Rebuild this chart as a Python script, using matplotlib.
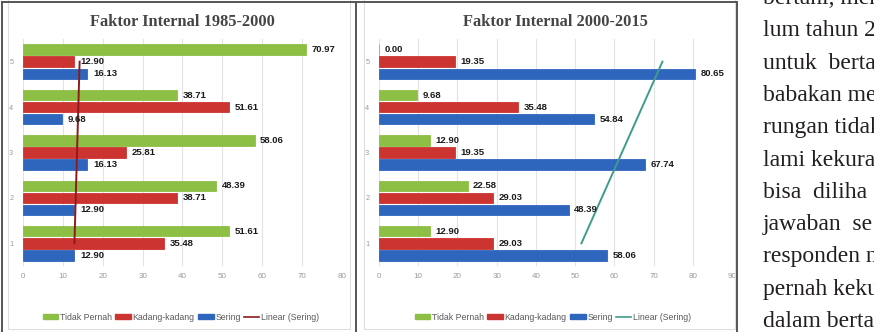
# faktor_internal.py — two clustered bar charts (Faktor Internal) side by side,
# scanned-page look with the body text cut off on the right

import numpy as np
import matplotlib
matplotlib.use("Agg")
import matplotlib.pyplot as plt
from matplotlib.patches import Patch, Rectangle
from matplotlib.lines import Line2D

plt.rcParams["font.family"] = ["Liberation Sans", "DejaVu Sans"]

# ── 1. Data ──────────────────────────────────────────────────────────────────

categories = [1, 2, 3, 4, 5]
series_names = ["Tidak Pernah", "Kadang-kadang", "Sering"]

tidak_pernah_1985 = [51.61, 48.39, 58.06, 38.71, 70.97]
kadang_1985 = [35.48, 38.71, 25.81, 51.61, 12.90]
sering_1985 = [12.90, 12.90, 16.13, 9.68, 16.13]

tidak_pernah_2000 = [12.90, 22.58, 12.90, 9.68, 0.00]
kadang_2000 = [29.03, 29.03, 19.35, 35.48, 19.35]
sering_2000 = [58.06, 48.39, 67.74, 54.84, 80.65]

titles = ["Faktor Internal 1985-2000", "Faktor Internal 2000-2015"]
x_limits = [80, 90]

# visible part of the page text next to the charts
page_lines = [
    "bertani, men",
    "lum tahun 2",
    "untuk  berta",
    "babakan me",
    "rungan tidak",
    "lami kekura",
    "bisa  diliha",
    "jawaban  se",
    "responden n",
    "pernah keku",
    "dalam berta",
]

# ── 2. Styling ───────────────────────────────────────────────────────────────

GREEN = "#8dbf45"
RED = "#cc3431"
BLUE = "#2f66bd"
TREND_COLORS = ["#8e1b1b", "#3f9c8c"]
W, H = 874, 332


def px(x, y):
    """pixel (from top-left) -> figure fraction"""
    return x / W, 1 - y / H


fig = plt.figure(figsize=(W / 100, H / 100), dpi=100)
fig.patch.set_facecolor("white")

# page frame: dark outer lines and light inner boxes
for x0, y0, x1, y1 in [(1.5, 2, 737, 2), (1.5, 2, 1.5, 332), (356, 2, 356, 332), (737, 2, 737, 332)]:
    a, b = px(x0, y0)
    c, d = px(x1, y1)
    fig.add_artist(Line2D([a, c], [b, d], transform=fig.transFigure, color="#555555", lw=1.4))
for x0, x1 in [(8, 350), (364, 735)]:
    a, b = px(x0, 329)
    fig.add_artist(Rectangle((a, b), (x1 - x0) / W, 1.2, transform=fig.transFigure,
                             fill=False, edgecolor="#dddddd", lw=0.8))

# ── 3. Charts ────────────────────────────────────────────────────────────────

panels = [
    (tidak_pernah_1985, kadang_1985, sering_1985),
    (tidak_pernah_2000, kadang_2000, sering_2000),
]
axes_px = [(23, 342), (379, 732)]   # x pixel of axis 0 and axis max
legend_cx = [181, 553]
y_top, y_bot = 39, 266

bar_h = 0.23
offsets = [0.265, 0.0, -0.265]      # green on top, red middle, blue bottom
colors = [GREEN, RED, BLUE]

for i, (vals, (xl, xr)) in enumerate(zip(panels, axes_px)):
    left, top = px(xl, y_top)
    right, bottom = px(xr, y_bot)
    ax = fig.add_axes([left, bottom, right - left, top - bottom])

    cats = np.array(categories)
    for series, off, col in zip(vals, offsets, colors):
        bars = ax.barh(cats + off, series, height=bar_h, color=col,
                       edgecolor=col, linewidth=0.6, zorder=3)
        for bar, v in zip(bars, series):
            ax.annotate(f"{v:.2f}", (bar.get_width(), bar.get_y() + bar.get_height() / 2),
                        xytext=(4, 0), textcoords="offset points", va="center", ha="left",
                        fontsize=6.8, fontweight="bold", color="#1a1a1a", zorder=5)

    # linear trendline of "Sering" over category index
    sering = np.array(vals[2])
    slope, inter = np.polyfit(cats, sering, 1)
    ax.plot(slope * cats + inter, cats, color=TREND_COLORS[i], lw=1.4, zorder=4)

    ax.set_xlim(0, x_limits[i])
    ax.set_ylim(0.5, 5.5)
    ax.set_xticks(np.arange(0, x_limits[i] + 1, 10))
    ax.set_yticks(categories)
    ax.xaxis.grid(True, color="#e3e3e3", lw=0.8)
    ax.set_axisbelow(True)
    for s in ax.spines.values():
        s.set_visible(False)
    ax.tick_params(axis="x", labelsize=5.8, colors="#9a9a9a", length=0, pad=5)
    ax.tick_params(axis="y", labelsize=5.3, colors="#9a9a9a", length=0, pad=7)
    ax.patch.set_alpha(0)

    ax.set_title(titles[i], fontsize=11.8, fontweight="bold", color="#454545",
                 family="Liberation Serif", pad=9)

    handles = [Patch(facecolor=c, edgecolor=c) for c in colors]
    handles.append(Line2D([0], [0], color=TREND_COLORS[i], lw=1.2))
    lx, ly = px(legend_cx[i], 317)
    fig.legend(handles, series_names + ["Linear (Sering)"], loc="center",
               bbox_to_anchor=(lx, ly), ncol=4, frameon=False, fontsize=6.3,
               handlelength=1.8, handleheight=0.5, handletextpad=0.2,
               columnspacing=0.35, labelcolor="#5a5a5a")

# ── 4. Body text of the page (cut off at the right edge) ─────────────────────

for k, line in enumerate(page_lines):
    tx, ty = px(763, 4 + 32.3 * k)
    fig.text(tx, ty, line, family="Liberation Serif", fontsize=17,
             color="#231f20", va="baseline", ha="left")

fig.savefig("out.png", dpi=100)
